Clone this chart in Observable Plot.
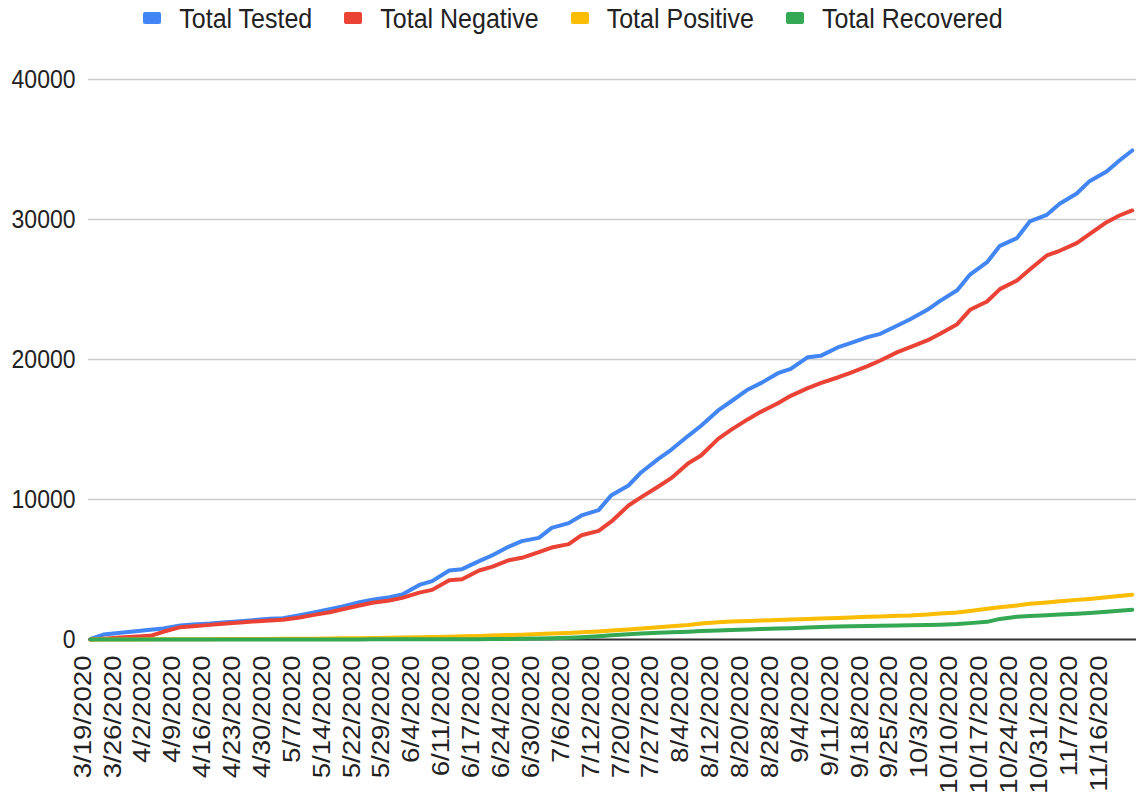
<!DOCTYPE html>
<html>
<head>
<meta charset="utf-8">
<script src="https://cdn.jsdelivr.net/npm/d3@7"></script>
<script src="https://cdn.jsdelivr.net/npm/@observablehq/plot@0.6"></script>
<style>
  html, body { margin: 0; padding: 0; background: #ffffff; }
  body { width: 1146px; height: 795px; overflow: hidden; font-family: "Liberation Sans", Arial, sans-serif; }
  #legend { height: 36px; display: flex; justify-content: center; align-items: center; }
  .item { display: flex; align-items: center; margin: 0 16px; }
  .sw { width: 18px; height: 12px; border-radius: 2px; margin-right: 18px; }
  .lab { font-size: 25px; color: #222; display: inline-block; transform: scaleY(1.1); white-space: nowrap; }
</style>
</head>
<body>
<div id="legend"></div>
<div id="chart"></div>
<script>
// ---- data ----
const seriesNames = ["Total Tested", "Total Negative", "Total Positive", "Total Recovered"];
const seriesColors = ["#4285F4", "#EA4335", "#FBBC04", "#34A853"];

// category (day) index of each sampled point
const dayIndex = [0,3,7,10,14,17,21,24,28,31,35,38,42,45,49,52,56,59,63,66,70,73,77,80,84,87,91,94,98,101,105,108,112,115,119,122,126,129,133,136,140,143,147,150,154,157,161,164,168,171,175,178,182,185,189,192,196,199,203,206,210,213,217,220,224,227,231,234,238,241,244];

const totalTested = [50,350,475,570,690,785,1000,1070,1140,1215,1310,1380,1475,1525,1740,1905,2165,2355,2665,2835,3025,3215,3900,4170,4930,5025,5595,6000,6640,7025,7260,7975,8310,8860,9240,10310,11000,11950,12905,13550,14550,15265,16360,17000,17860,18310,19025,19335,20165,20260,20860,21165,21595,21835,22430,22880,23550,24190,24950,26070,26950,28120,28670,29860,30335,31120,31860,32740,33430,34215,34930];

const totalNegative = [0,60,143,190,260,550,880,950,1045,1120,1215,1285,1357,1405,1570,1740,1950,2165,2430,2620,2785,2975,3350,3545,4240,4310,4930,5190,5665,5835,6240,6570,6810,7450,7760,8430,9570,10165,10930,11525,12595,13145,14335,14975,15740,16260,16880,17405,17950,18310,18715,19050,19525,19930,20525,20880,21360,21835,22525,23550,24145,25025,25645,26430,27430,27765,28310,28955,29810,30285,30645];

const totalPositive = [0,2,5,8,12,15,20,22,25,28,32,36,42,48,55,62,72,82,95,110,125,140,160,180,205,225,255,280,315,345,385,420,470,520,580,640,720,790,880,950,1040,1150,1230,1280,1320,1350,1390,1420,1460,1500,1540,1580,1620,1650,1690,1720,1790,1850,1930,2030,2190,2300,2430,2550,2650,2730,2830,2900,3020,3110,3200];

const totalRecovered = [0,0,0,0,0,0,0,0,0,0,0,0,0,0,0,2,4,6,8,10,12,14,16,18,20,22,25,30,40,50,70,90,120,160,230,300,380,430,480,520,560,600,640,680,720,750,780,810,850,900,930,950,970,990,1000,1010,1030,1050,1100,1170,1260,1470,1620,1680,1740,1790,1840,1890,1980,2050,2120];

// every 7th category is labelled
const tickDates = ["3/19/2020","3/26/2020","4/2/2020","4/9/2020","4/16/2020","4/23/2020","4/30/2020","5/7/2020","5/14/2020","5/22/2020","5/29/2020","6/4/2020","6/11/2020","6/17/2020","6/24/2020","6/30/2020","7/6/2020","7/12/2020","7/20/2020","7/27/2020","8/4/2020","8/12/2020","8/20/2020","8/28/2020","9/4/2020","9/11/2020","9/18/2020","9/25/2020","10/3/2020","10/10/2020","10/17/2020","10/24/2020","10/31/2020","11/7/2020","11/16/2020"];
const labelEvery = 7;
const yTicks = [0, 10000, 20000, 30000, 40000];

// ---- build table ----
const seriesValues = [totalTested, totalNegative, totalPositive, totalRecovered];
const rows = seriesNames.flatMap((name, s) =>
  dayIndex.map((d, i) => ({series: name, day: d, value: seriesValues[s][i]})));

// ---- legend ----
const legend = document.getElementById("legend");
seriesNames.forEach((name, i) => {
  const it = document.createElement("div");
  it.className = "item";
  it.innerHTML = `<span class="sw" style="background:${seriesColors[i]}"></span><span class="lab">${name}</span>`;
  legend.appendChild(it);
});

// ---- chart ----
const chart = Plot.plot({
  width: 1146,
  height: 759,
  marginLeft: 88,
  marginRight: 10,
  marginTop: 43,
  marginBottom: 156,
  style: {fontFamily: "'Liberation Sans', Arial, sans-serif", background: "#ffffff", color: "#222"},
  x: {domain: [-0.5, 245], axis: null},
  y: {domain: [0, 40000], axis: null},
  color: {domain: seriesNames, range: seriesColors},
  marks: [
    Plot.gridY(yTicks.filter(d => d > 0), {stroke: "#cccccc", strokeOpacity: 1, strokeWidth: 1.6}),
    Plot.axisY(yTicks, {anchor: "left", label: null, tickSize: 0, tickPadding: 13, fontSize: 23, tickFormat: d => String(d), fill: "#222"}),
    Plot.ruleY([0], {stroke: "#333333", strokeWidth: 2}),
    Plot.lineY(rows, {x: "day", y: "value", z: "series", stroke: "series", strokeWidth: 4, strokeLinejoin: "round", strokeLinecap: "round"}),
    Plot.text(tickDates, {x: (d, i) => i * labelEvery, text: d => d, frameAnchor: "bottom", rotate: -90, textAnchor: "end", dy: 16, fontSize: 24, fill: "#222"})
  ]
});
document.getElementById("chart").appendChild(chart);

// Stretch glyphs slightly along the picture's vertical axis, as in the reference
const stretch = 1.15;
chart.querySelectorAll("text").forEach(t => {
  const bb = t.getBBox();
  const tr = t.getAttribute("transform") || "";
  const rotated = /rotate/.test(tr);
  let extra;
  if (rotated) {
    const ax = bb.x + bb.width; // anchored at its end
    extra = `translate(${ax},0) scale(${stretch},1) translate(${-ax},0)`;
  } else {
    const cy = bb.y + bb.height / 2;
    extra = `translate(0,${cy}) scale(1,${stretch}) translate(0,${-cy})`;
  }
  t.setAttribute("transform", `${tr} ${extra}`.trim());
});
</script>
</body>
</html>
